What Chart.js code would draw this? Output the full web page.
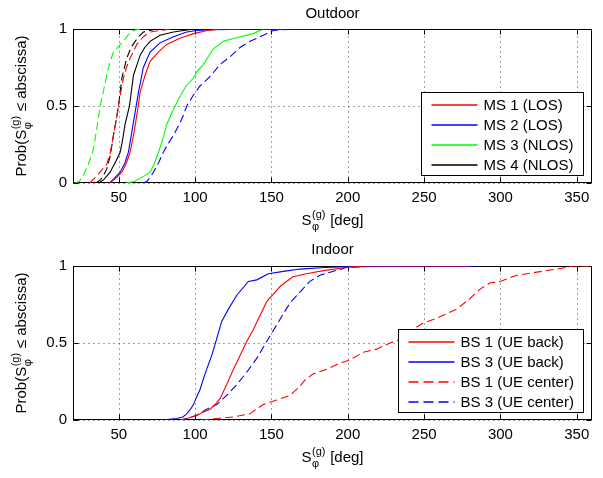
<!DOCTYPE html>
<html>
<head>
<meta charset="utf-8">
<script src="https://cdn.jsdelivr.net/npm/chart.js@4.4.0/dist/chart.umd.min.js"></script>
<style>
  html, body { margin: 0; padding: 0; background: #fff; }
  #wrap { position: relative; width: 603px; height: 478px; }
  canvas { position: absolute; left: 0; }
</style>
</head>
<body>
<div id="wrap">
  <canvas id="outdoor" width="603" height="240" style="top:0"></canvas>
  <canvas id="indoor" width="603" height="238" style="top:240px"></canvas>
</div>
<script>
// ---- data ----
const xTicks = [50, 100, 150, 200, 250, 300, 350];
const yTicks = [0, 0.5, 1];
const yTickLabels = ['0', '0.5', '1'];

// Outdoor, solid (in legend)
const ms1X = [44, 48, 52, 55, 57.4, 60, 61.8, 64, 67.2, 70.5, 75.9, 81.4, 90, 99, 108, 118, 130];
const ms1Y = [0, 0.03, 0.07, 0.13, 0.2, 0.33, 0.44, 0.59, 0.70, 0.79, 0.85, 0.90, 0.94, 0.97, 0.99, 1, 1];
const ms2X = [44, 47, 50.9, 54, 56.3, 58.5, 60.7, 62.9, 66.1, 70.5, 77, 85.8, 94.5, 101, 110, 140, 190];
const ms2Y = [0, 0.03, 0.07, 0.13, 0.2, 0.33, 0.46, 0.59, 0.75, 0.85, 0.91, 0.95, 0.98, 0.99, 0.995, 0.999, 1];
const ms3X = [55, 60, 64, 70.5, 73, 76, 79, 81.4, 84, 86.9, 90, 94, 98.8, 101, 105.4, 111.9, 118.5, 129.4, 138.1, 144.7, 160];
const ms3Y = [0, 0.01, 0.03, 0.07, 0.12, 0.2, 0.29, 0.38, 0.44, 0.5, 0.56, 0.63, 0.68, 0.72, 0.77, 0.87, 0.92, 0.95, 0.97, 1, 1];
const ms4X = [37, 40, 44.3, 48, 50.9, 52.5, 54.1, 57, 59.6, 62, 64, 67, 70.5, 77, 85.8, 98.9, 110];
const ms4Y = [0, 0.02, 0.07, 0.14, 0.2, 0.28, 0.38, 0.5, 0.70, 0.77, 0.83, 0.88, 0.92, 0.96, 0.98, 1, 1];
// Outdoor, dashed (not in legend)
const ms1dX = [31, 34, 37.8, 40, 42.1, 44.5, 46.5, 48.5, 49.8, 51.5, 53, 55, 57.4, 61.8, 66.1, 70.5, 77, 84];
const ms1dY = [0, 0.03, 0.07, 0.1, 0.12, 0.2, 0.31, 0.42, 0.5, 0.6, 0.68, 0.75, 0.81, 0.9, 0.95, 0.98, 0.99, 1];
const ms2dX = [66, 68.3, 70, 72.7, 76, 79.2, 82, 85.8, 88, 90.1, 92.3, 94.5, 98.8, 103.2, 109.7, 116.3, 122.9, 129.4, 136, 144.7, 151.2, 156, 170, 190];
const ms2dY = [0, 0.01, 0.03, 0.07, 0.13, 0.2, 0.25, 0.31, 0.35, 0.39, 0.44, 0.5, 0.57, 0.63, 0.69, 0.77, 0.82, 0.88, 0.92, 0.96, 0.99, 0.995, 0.998, 1];
const ms3dX = [21, 24, 26.8, 30, 33.4, 36, 37.8, 40, 42.1, 44, 46.5, 50, 53, 56, 59.6, 64];
const ms3dY = [0, 0.01, 0.05, 0.12, 0.22, 0.38, 0.5, 0.6, 0.70, 0.78, 0.85, 0.89, 0.92, 0.96, 0.99, 1];
const ms4dX = [35, 38, 40, 42.1, 44.5, 46.5, 48.5, 49.8, 51, 52, 55.2, 58, 60.7, 63, 66.1, 70, 75];
const ms4dY = [0, 0.02, 0.05, 0.09, 0.18, 0.31, 0.42, 0.5, 0.6, 0.68, 0.81, 0.88, 0.92, 0.95, 0.98, 0.99, 1];

// Indoor
const bs1BackX = [90, 95, 101, 105, 109.8, 113, 116.4, 120.7, 125.1, 129.5, 133.8, 138.2, 142.6, 147, 152.4, 156, 164, 173, 184, 199, 210, 280];
const bs1BackY = [0, 0.01, 0.03, 0.05, 0.07, 0.1, 0.14, 0.23, 0.33, 0.42, 0.51, 0.59, 0.68, 0.77, 0.83, 0.87, 0.93, 0.95, 0.97, 0.99, 1, 1];
const bs3BackX = [77, 83, 88, 92, 94.5, 97, 98.9, 101, 103.3, 105.5, 107.6, 110.9, 114.2, 117.4, 121.8, 127.3, 134.9, 140.4, 148, 157.8, 168.8, 185, 200, 250, 285];
const bs3BackY = [0, 0.005, 0.01, 0.02, 0.04, 0.07, 0.1, 0.15, 0.2, 0.27, 0.33, 0.42, 0.53, 0.64, 0.72, 0.81, 0.9, 0.91, 0.95, 0.965, 0.98, 0.99, 0.995, 0.999, 1];
const bs1CenterX = [104, 107.6, 114.2, 125, 136, 140, 144.7, 153.5, 162.2, 168.8, 172, 177.4, 186.2, 194.9, 201.4, 210.2, 218.9, 227.6, 236.4, 242.9, 249.5, 258.2, 262.6, 271.4, 280.1, 286.7, 293.2, 299.8, 310.7, 323.8, 336.9, 347.8, 360];
const bs1CenterY = [0, 0.003, 0.01, 0.02, 0.04, 0.07, 0.1, 0.13, 0.16, 0.22, 0.26, 0.3, 0.33, 0.37, 0.39, 0.44, 0.46, 0.5, 0.53, 0.59, 0.63, 0.66, 0.68, 0.72, 0.79, 0.85, 0.89, 0.9, 0.94, 0.96, 0.98, 1, 1];
const bs3CenterX = [90, 94.5, 101, 107.6, 114.2, 120.7, 127.3, 133.8, 140.4, 146.9, 152.4, 157.8, 162.2, 168.6, 175.2, 181.8, 188.4, 199, 215, 240, 280];
const bs3CenterY = [0, 0.01, 0.03, 0.07, 0.1, 0.16, 0.23, 0.31, 0.4, 0.51, 0.6, 0.69, 0.76, 0.83, 0.9, 0.94, 0.96, 0.99, 0.998, 1, 1];

const outdoorLabels = ['MS 1 (LOS)', 'MS 2 (LOS)', 'MS 3 (NLOS)', 'MS 4 (NLOS)'];
const indoorLabels = ['BS 1 (UE back)', 'BS 3 (UE back)', 'BS 1 (UE center)', 'BS 3 (UE center)'];

// ---- styling ----
const FONT = "'Liberation Sans', Arial, Helvetica, sans-serif";
const RED = '#ff0000', BLUE = '#0000ff', GREEN = '#00ff00', BLACK = '#000000';
const DASH = [8, 4];

function series(xs, ys, color, dashed, label) {
    return {
        label: label || '',
        data: xs.map((x, i) => ({ x: x, y: ys[i] })),
        showLine: true,
        borderColor: color,
        backgroundColor: color,
        borderWidth: 1.1,
        borderDash: dashed ? DASH : [],
        pointRadius: 0,
        tension: 0,
        // used by the legend box below
        keyColor: color,
        keyDashed: dashed,
        inLegend: !!label
    };
}

// S_phi^(g) style label: main text, stacked sub/sup, trailing text
function drawScriptLabel(ctx, before, after, cx, cy, rotate) {
    ctx.save();
    ctx.translate(cx, cy);
    if (rotate) ctx.rotate(-Math.PI / 2);
    ctx.fillStyle = '#000';
    ctx.textAlign = 'left';
    ctx.textBaseline = 'alphabetic';
    ctx.font = '15px ' + FONT;
    const wBefore = ctx.measureText(before).width;
    const wAfter = ctx.measureText(after).width;
    ctx.font = '11px ' + FONT;
    const wScript = Math.max(ctx.measureText('(g)').width, ctx.measureText('\u03c6').width) + 1;
    let x = -(wBefore + wScript + wAfter) / 2;
    ctx.font = '15px ' + FONT;
    ctx.fillText(before, x, 0);
    x += wBefore;
    ctx.font = '11px ' + FONT;
    ctx.fillText('(g)', x + 0.5, -7);
    ctx.fillText('\u03c6', x + 0.5, 5);
    x += wScript;
    ctx.font = '15px ' + FONT;
    ctx.fillText(after, x, 0);
    ctx.restore();
}

// matlab-ish axes: dotted grid, box, inward ticks, labels, legend
const matlabAxes = {
    id: 'matlabAxes',
    beforeDatasetsDraw(chart, args, opts) {
        const { ctx, chartArea: a, scales } = chart;
        const L = Math.round(a.left) + 0.5, R = Math.round(a.right) - 0.5;
        const T = Math.round(a.top) + 0.5, B = Math.round(a.bottom) - 0.5;
        ctx.save();
        // dotted grid
        ctx.strokeStyle = '#444';
        ctx.lineWidth = 1;
        ctx.setLineDash([1, 4]);
        xTicks.forEach(v => {
            const px = Math.round(scales.x.getPixelForValue(v)) + 0.5;
            ctx.beginPath(); ctx.moveTo(px, B); ctx.lineTo(px, T); ctx.stroke();
        });
        yTicks.forEach(v => {
            const py = Math.round(scales.y.getPixelForValue(v)) + 0.5;
            ctx.beginPath(); ctx.moveTo(L, py); ctx.lineTo(R, py); ctx.stroke();
        });
        ctx.setLineDash([]);
        // box
        ctx.strokeStyle = '#000';
        ctx.strokeRect(L, T, R - L, B - T);
        // inward tick marks
        const tl = 5;
        ctx.beginPath();
        xTicks.forEach(v => {
            const px = Math.round(scales.x.getPixelForValue(v)) + 0.5;
            ctx.moveTo(px, B); ctx.lineTo(px, B - tl);
            ctx.moveTo(px, T); ctx.lineTo(px, T + tl);
        });
        yTicks.forEach(v => {
            const py = Math.round(scales.y.getPixelForValue(v)) + 0.5;
            ctx.moveTo(L, py); ctx.lineTo(L + tl, py);
            ctx.moveTo(R, py); ctx.lineTo(R - tl, py);
        });
        ctx.stroke();
        // title
        ctx.fillStyle = '#000';
        ctx.font = '15px ' + FONT;
        ctx.textAlign = 'center';
        ctx.textBaseline = 'alphabetic';
        const cx = (a.left + a.right) / 2;
        ctx.fillText(opts.title, cx, a.top - opts.titleGap);
        ctx.restore();
        // axis labels
        drawScriptLabel(ctx, 'S', ' [deg]', cx, a.bottom + 42, false);
        drawScriptLabel(ctx, 'Prob(S', ' \u2264 abscissa)', 26, (a.top + a.bottom) / 2, true);
    },
    afterDatasetsDraw(chart, args, opts) {
        const { ctx, chartArea: a } = chart;
        const items = chart.data.datasets.filter(d => d.inLegend);
        ctx.save();
        ctx.font = '15px ' + FONT;
        const maxW = Math.max(...items.map(d => ctx.measureText(d.label).width));
        const rowH = 20;
        const w = Math.round(62 + maxW + 10);
        const h = items.length * rowH + 3;
        const right = Math.round(a.right) - 8.5;
        const bottom = Math.round(a.bottom) - 7.5;
        const left = right - w, top = bottom - h;
        ctx.fillStyle = '#fff';
        ctx.fillRect(left, top, w, h);
        ctx.strokeStyle = '#000';
        ctx.lineWidth = 1;
        ctx.strokeRect(left, top, w, h);
        items.forEach((d, i) => {
            // integer y: the key line covers two pixel rows, like the reference
            const y = Math.round(top + 12 + i * rowH);
            ctx.save();
            ctx.strokeStyle = d.keyColor;
            ctx.lineWidth = 1.3;
            ctx.setLineDash(d.keyDashed ? [10, 5] : []);
            ctx.beginPath(); ctx.moveTo(left + 10, y); ctx.lineTo(left + 56, y); ctx.stroke();
            ctx.restore();
            ctx.fillStyle = '#000';
            ctx.textAlign = 'left';
            ctx.textBaseline = 'middle';
            ctx.fillText(d.label, left + 62, y + 1);
        });
        ctx.restore();
    }
};

function makeChart(id, datasets, title, padTop, padBottom, titleGap) {
    return new Chart(document.getElementById(id), {
        type: 'scatter',
        data: { datasets: datasets },
        options: {
            responsive: false,
            animation: false,
            layout: { padding: { top: padTop, left: 33, right: 11, bottom: padBottom } },
            plugins: {
                legend: { display: false },
                tooltip: { enabled: false },
                matlabAxes: { title: title, titleGap: titleGap }
            },
            scales: {
                x: {
                    type: 'linear', min: 20, max: 360,
                    grid: { display: false, drawTicks: false },
                    border: { display: false },
                    afterBuildTicks: s => { s.ticks = xTicks.map(v => ({ value: v })); },
                    afterFit: s => { s.height = 24; },
                    ticks: { color: '#000', font: { family: FONT, size: 15 }, padding: 6,
                             maxRotation: 0, autoSkip: false, callback: v => String(v) }
                },
                y: {
                    type: 'linear', min: 0, max: 1,
                    grid: { display: false, drawTicks: false },
                    border: { display: false },
                    afterBuildTicks: s => { s.ticks = yTicks.map(v => ({ value: v })); },
                    afterFit: s => { s.width = 40; },
                    ticks: { color: '#000', font: { family: FONT, size: 15 }, padding: 6,
                             callback: v => yTickLabels[yTicks.indexOf(v)] }
                }
            }
        },
        plugins: [matlabAxes]
    });
}

makeChart('outdoor', [
    series(ms1X, ms1Y, RED, false, outdoorLabels[0]),
    series(ms2X, ms2Y, BLUE, false, outdoorLabels[1]),
    series(ms3X, ms3Y, GREEN, false, outdoorLabels[2]),
    series(ms4X, ms4Y, BLACK, false, outdoorLabels[3]),
    series(ms1dX, ms1dY, RED, true),
    series(ms2dX, ms2dY, BLUE, true),
    series(ms3dX, ms3dY, GREEN, true),
    series(ms4dX, ms4dY, BLACK, true)
], 'Outdoor', 29, 33, 11);

makeChart('indoor', [
    series(bs1BackX, bs1BackY, RED, false, indoorLabels[0]),
    series(bs3BackX, bs3BackY, BLUE, false, indoorLabels[1]),
    series(bs1CenterX, bs1CenterY, RED, true, indoorLabels[2]),
    series(bs3CenterX, bs3CenterY, BLUE, true, indoorLabels[3])
], 'Indoor', 26, 34, 12);
</script>
</body>
</html>
